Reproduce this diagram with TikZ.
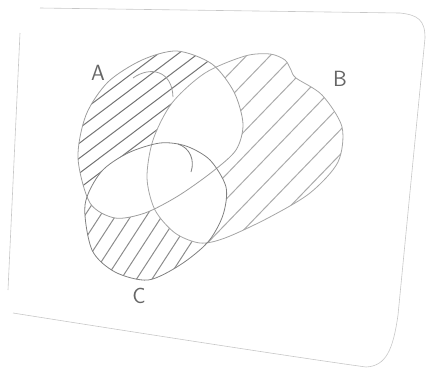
\documentclass[tikz,border=0pt]{standalone}
\usepackage{tikz}

% outlines of the three sets, in picture pixels
\newcommand{\setApath}{plot[smooth cycle] coordinates {(78,158) (86,115) (108,82) (142,60) (177,51) (212,64) (234,92) (243,124) (236,150) (212,172) (178,196) (145,213) (115,218) (90,203)}}
\newcommand{\setBpath}{plot[smooth cycle] coordinates {(147,178) (153,140) (172,103) (205,73) (245,56) (270,54) (285,60) (291,70) (296,78) (322,95) (342,127) (338,162) (310,193) (268,218) (225,238) (200,243) (175,233) (155,210)}}
\newcommand{\setCpath}{plot[smooth cycle] coordinates {(85,205) (101,172) (128,153) (160,143) (186,146) (210,160) (226,187) (223,215) (208,242) (180,265) (148,280) (115,272) (92,250)}}

\begin{document}
\begin{tikzpicture}[
    x=1pt, y=-1pt,
    paper/.style={draw=black!22, line width=0.6pt},
    setline/.style={draw=black!#1, line width=0.8pt},
    hatch/.style={draw=black!#1, line width=1pt, line cap=round},
    setlabel/.style={font=\sffamily\fontsize{22}{22}\selectfont, text=black!60},
]
\useasboundingbox (0,0) rectangle (428,373);

% -- sheet of paper -------------------------------------------
\draw[paper] (40,8) -- (400,13) .. controls (418,15) and (425,20) .. (425,38)
    -- (398,315) .. controls (393,350) and (386,366) .. (366,367)
    .. controls (300,358) and (120,330) .. (13,313);
\draw[paper] (20,33) -- (8,290);

% -- hatching: A only ------------------------------------------
\begin{scope}[even odd rule]
  \clip \setApath;
  \clip (0,0) rectangle (428,373) \setBpath;
  \clip (0,0) rectangle (428,373) \setCpath;
  \foreach \k in {-150,-138,...,150}
    \draw[hatch=55, rotate around={37:(160,135)}] (-100,135+\k) -- (420,135+\k);
\end{scope}

% -- hatching: B only ------------------------------------------
\begin{scope}[even odd rule]
  \clip \setBpath;
  \clip (0,0) rectangle (428,373) \setApath;
  \clip (0,0) rectangle (428,373) \setCpath;
  \foreach \k in {-170,-153,...,170}
    \draw[hatch=33, rotate around={46:(250,150)}] (0,150+\k) -- (500,150+\k);
\end{scope}

% -- hatching: C only ------------------------------------------
\begin{scope}[even odd rule]
  \clip \setCpath;
  \clip (0,0) rectangle (428,373) \setApath;
  \clip (0,0) rectangle (428,373) \setBpath;
  \foreach \k in {-120,-107,...,120}
    \draw[hatch=45, rotate around={57:(150,240)}] (-50,240+\k) -- (350,240+\k);
\end{scope}

% -- set outlines ----------------------------------------------
\draw[setline=38] \setApath;
\draw[setline=35] \setBpath;
\draw[setline=50] \setCpath;
\draw[setline=38] (133,78) .. controls (150,66) and (172,70) .. (173,97);
\draw[setline=50] (178,144) .. controls (190,148) and (195,160) .. (191,172);

% -- labels ----------------------------------------------------
\node[setlabel] (labA) at (98,73) {A};
\node[setlabel] (labB) at (340,79) {B};
\node[setlabel] (labC) at (139,296) {C};

\end{tikzpicture}
\end{document}
